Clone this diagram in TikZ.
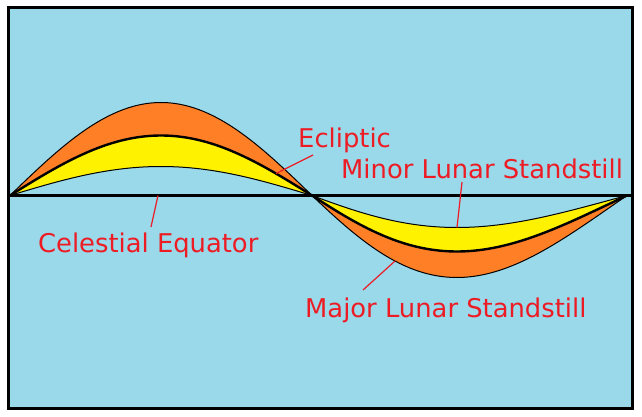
\documentclass[tikz,border=0pt]{standalone}
\usepackage{fontspec}
\setmainfont{DejaVu Sans}
\usepackage{tikz}
\definecolor{skyblue}{RGB}{153,217,234}
\definecolor{paintorange}{RGB}{255,127,39}
\definecolor{paintyellow}{RGB}{255,242,0}
\definecolor{paintred}{RGB}{237,28,36}
\tikzset{
	declare function={
		upper(\x,\a)=195.5-\a*sin((\x-10)/302*180);
		lower(\x,\a)=195.5+\a*sin(180*((\x-312)/315+0.161*((\x-312)/315)*(1-(\x-312)/315)));
	},
	label/.style={text=paintred, inner sep=0pt, anchor=base west, font=\fontsize{25.8}{30}\selectfont},
	leader/.style={draw=paintred, line width=1.2pt},
	edge/.style={line width=1pt},
	ecliptic/.style={line width=2.4pt}
}

\begin{document}
\begin{tikzpicture}[x=1pt,y=-1pt]
	%%%%% START %%%%%
	\useasboundingbox (0,0) rectangle (642,417);
	\draw[line width=3pt, fill=skyblue] (8.5,7.5) rectangle (632.5,408.5);
	
	% bands above the equator
	\foreach \a/\c in {93/paintorange, 60/paintyellow, 29/skyblue}
		\fill[\c] plot[domain=10:312, samples=80] (\x, {upper(\x,\a)}) -- cycle;
	\draw[edge] plot[domain=10:312, samples=80] (\x, {upper(\x,93)});
	\draw[edge] plot[domain=10:312, samples=80] (\x, {upper(\x,29)});
	\draw[ecliptic] plot[domain=10:312, samples=80] (\x, {upper(\x,60)});
	
	% bands below the equator
	\foreach \a/\c in {82/paintorange, 56/paintyellow, 32/skyblue}
		\fill[\c] plot[domain=312:627, samples=80] (\x, {lower(\x,\a)}) -- cycle;
	\draw[edge] plot[domain=312:627, samples=80] (\x, {lower(\x,82)});
	\draw[edge] plot[domain=312:627, samples=80] (\x, {lower(\x,32)});
	\draw[ecliptic] plot[domain=312:627, samples=80] (\x, {lower(\x,56)});
	
	% equator
	\draw[line width=2.5pt] (10,195.5) -- (631,195.5);
	
	% labels
	\node[label] (ecl) at (298,147) {Ecliptic};
	\node[label] (minor) at (341,178) {Minor Lunar Standstill};
	\node[label] (equ) at (38,252) {Celestial Equator};
	\node[label] (major) at (305,317) {Major Lunar Standstill};
	
	\coordinate (eclFoot) at (313,155);
	\coordinate (eclPt) at (276, {upper(276,60)});
	\coordinate (minorFoot) at (462,182);
	\coordinate (minorPt) at (457, {lower(457,32)});
	\coordinate (equFoot) at (151,227);
	\coordinate (equPt) at (158,195.5);
	\coordinate (majorFoot) at (363,290);
	\coordinate (majorPt) at (395, {lower(395,82)});
	
	\draw[leader] (eclFoot) -- (eclPt);
	\draw[leader] (minorFoot) -- (minorPt);
	\draw[leader] (equFoot) -- (equPt);
	\draw[leader] (majorFoot) -- (majorPt);
	%%%%% END %%%%%
\end{tikzpicture}
\end{document}
